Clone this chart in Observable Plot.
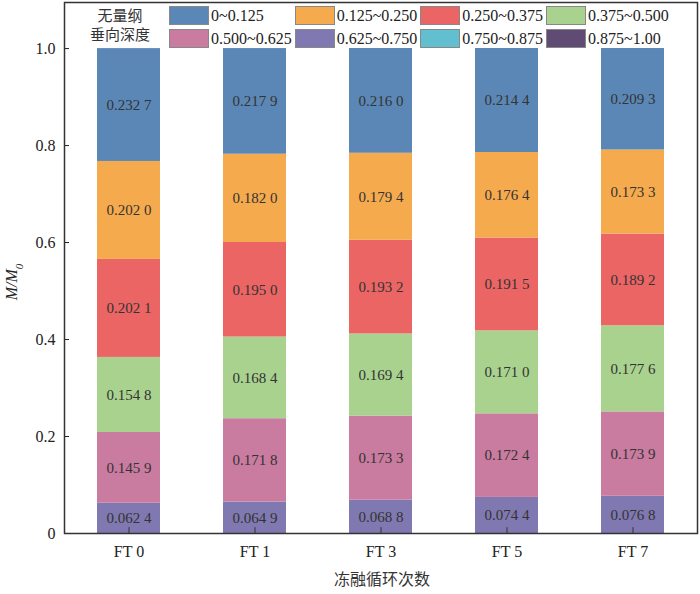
<!DOCTYPE html>
<html><head><meta charset="utf-8">
<script src="https://cdn.jsdelivr.net/npm/d3@7"></script>
<script src="https://cdn.jsdelivr.net/npm/@observablehq/plot@0.6"></script>
<style>
body{margin:0;background:#fff;font-family:"Liberation Serif",serif}
#wrap{position:relative;width:700px;height:594px}
#legend{position:absolute;left:169px;top:6px;font-family:"Liberation Serif",serif;font-size:16px;color:#222;display:grid;grid-template-columns:auto auto auto auto;column-gap:3px;row-gap:4px}
#legend .it{display:flex;align-items:center}
#legend .sw{width:38px;height:17px;margin-right:2px;border:1px solid #888}
#lt{position:absolute;left:80px;top:5px;width:80px;font-family:"Noto Sans CJK SC";font-size:15px;line-height:19px;color:#333;text-align:center}
</style></head>
<body><div id="wrap"><div id="lt">无量纲<br>垂向深度</div><div id="legend"></div></div>
<script>
const fts = ["FT 0","FT 1","FT 3","FT 5","FT 7"];
const cats = ["0~0.125","0.125~0.250","0.250~0.375","0.375~0.500","0.500~0.625","0.625~0.750","0.750~0.875","0.875~1.00"];
const colors = ["#5b87b6","#f6aa4e","#eb6565","#a9d28f","#c97ba0","#8078b0","#62bfd0","#5f4b74"];
const v0625 = [0.0624,0.0649,0.0688,0.0744,0.0768];
const v0500 = [0.1459,0.1718,0.1733,0.1724,0.1739];
const v0375 = [0.1548,0.1684,0.1694,0.1710,0.1776];
const v0250 = [0.2021,0.1950,0.1932,0.1915,0.1892];
const v0125 = [0.2020,0.1820,0.1794,0.1764,0.1733];
const v0000 = [0.2327,0.2179,0.2160,0.2144,0.2093];
const series = [["0.625~0.750",v0625],["0.500~0.625",v0500],["0.375~0.500",v0375],["0.250~0.375",v0250],["0.125~0.250",v0125],["0~0.125",v0000]];
const data = [];
for (const [c,vals] of series) vals.forEach((v,i)=>data.push({ft:fts[i],cat:c,value:v,label:v.toFixed(4).replace(/(\d{3})(\d)$/,"$1 $2")}));
const order = series.map(s=>s[0]);
const chart = Plot.plot({
  width:700,height:594,marginLeft:64,marginRight:3,marginTop:2,marginBottom:61,
  style:{fontFamily:"Liberation Serif",fontSize:"16px",color:"#222"},
  x:{domain:fts,paddingInner:0.5,paddingOuter:0.25,label:null},
  y:{domain:[0,1.095],label:null},
  color:{domain:cats,range:colors},
  marks:[
    Plot.barY(data,Plot.stackY({x:"ft",y:"value",z:"cat",fill:"cat",order})),
    Plot.text(data,Plot.stackY({x:"ft",y:"value",z:"cat",order,text:"label",fontSize:15,fill:"#333"})),
    Plot.ruleX(fts,{x:d=>d,y1:0,y2:0.012,stroke:"#333"}),
    Plot.axisX({tickSize:0,tickPadding:12,fontSize:16}),
    Plot.axisY({ticks:[0,0.2,0.4,0.6,0.8,1.0],tickSize:-5,tickFormat:d=>d===0?"0":d.toFixed(1),fontSize:16,tickPadding:14}),
    Plot.frame({stroke:"#333",strokeWidth:1.5})
  ]
});
const svg = d3.select(chart);
svg.append("text").attr("x",382).attr("y",585).attr("text-anchor","middle").style("font-family","Noto Sans CJK SC").style("font-size","16px").attr("fill","#333").text("冻融循环次数");
const yl = svg.append("text").attr("transform","translate(17,282) rotate(-90)").attr("text-anchor","middle").style("font-style","italic").style("font-size","16px").attr("fill","#222");
yl.append("tspan").text("M/M");
yl.append("tspan").attr("baseline-shift","sub").style("font-size","11px").text("0");
document.getElementById("wrap").prepend(chart);
const lg = document.getElementById("legend");
cats.forEach((c,i)=>{const d=document.createElement("div");d.className="it";d.innerHTML=`<span class="sw" style="background:${colors[i]}"></span>${c}`;lg.appendChild(d);});
</script></body></html>
